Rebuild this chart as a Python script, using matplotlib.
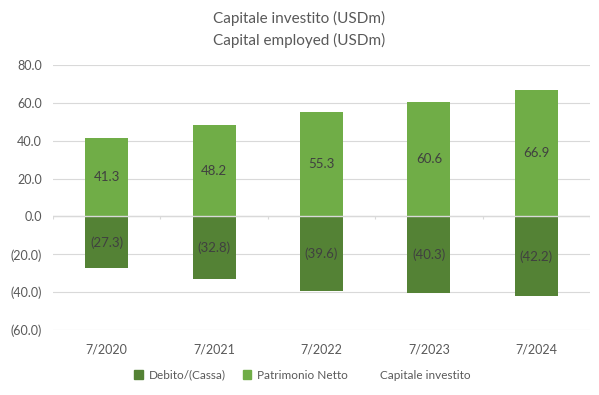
import matplotlib
matplotlib.use('Agg')
import matplotlib.pyplot as plt
import numpy as np
from matplotlib.lines import Line2D
from matplotlib.patches import Patch

years = ['7/2020', '7/2021', '7/2022', '7/2023', '7/2024']
debito = [-27.3, -32.8, -39.6, -40.3, -42.2]
patrimonio = [41.3, 48.2, 55.3, 60.6, 66.9]
yticks = [-60, -40, -20, 0, 20, 40, 60, 80]

dark = '#548235'
light = '#70AD47'
txt = '#404040'
grey = '#595959'

plt.rcParams['font.family'] = ['Lato', 'DejaVu Sans']

fig = plt.figure(figsize=(5.99, 3.95), dpi=100)
ax = fig.add_axes([0.0885, 0.1646, 0.8965, 0.6708])

x = np.arange(len(years))
ax.bar(x, debito, width=0.4, color=dark, zorder=3)
ax.bar(x, patrimonio, width=0.4, color=light, zorder=3)

for i in range(len(years)):
    ax.text(x[i], debito[i] / 2, '(%.1f)' % abs(debito[i]), ha='center', va='center',
            fontsize=9.5, color=txt, zorder=4)
    ax.text(x[i], patrimonio[i] / 2, '%.1f' % patrimonio[i], ha='center', va='center',
            fontsize=9.5, color=txt, zorder=4)

# zero line + small category ticks
ax.axhline(0, color='#d9d9d9', lw=1, zorder=4)
ax.vlines(np.arange(len(years) + 1) - 0.5, -1.6, 0, color='#d9d9d9', lw=0.8, zorder=4)

ax.set_xlim(-0.5, len(years) - 0.5)
ax.set_ylim(-60, 80)
ax.set_yticks(yticks)
ax.set_yticklabels(['(%.1f)' % abs(v) if v < 0 else '%.1f' % v for v in yticks])
ax.yaxis.grid(True, color='#d9d9d9', lw=0.8, zorder=0)
ax.set_xticks(x)
ax.set_xticklabels(years)
ax.tick_params(axis='both', length=0, labelsize=9, colors=grey)
ax.tick_params(axis='x', pad=10)
ax.tick_params(axis='y', pad=8)
for s in ax.spines.values():
    s.set_visible(False)

fig.text(0.5, 0.953, 'Capitale investito (USDm)', ha='center', va='center', fontsize=11, color=grey)
fig.text(0.5, 0.898, 'Capital employed (USDm)', ha='center', va='center', fontsize=11, color=grey)

handles = [Patch(color=dark), Patch(color=light), Line2D([], [], color='none')]
fig.legend(handles, ['Debito/(Cassa)', 'Patrimonio Netto', 'Capitale investito'],
           loc='center', bbox_to_anchor=(0.505, 0.05), ncol=3, frameon=False,
           fontsize=8.5, labelcolor=grey, handlelength=0.7, handleheight=0.7,
           handletextpad=0.5, columnspacing=1.5)

plt.savefig('out.png', dpi=100)
